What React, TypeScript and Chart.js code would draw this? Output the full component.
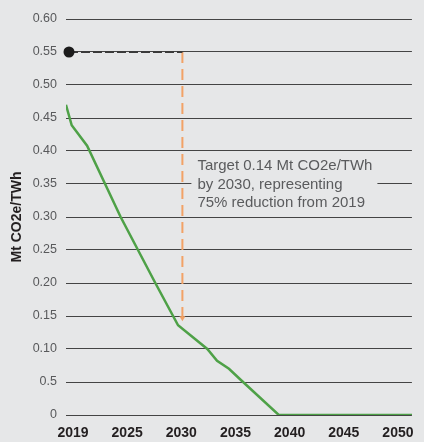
import React, { useEffect, useRef } from "react";
import { Chart, registerables } from "chart.js";

Chart.register(...registerables);

// ---- data ----
const yTickValues = [0, 0.05, 0.1, 0.15, 0.2, 0.25, 0.3, 0.35, 0.4, 0.45, 0.5, 0.55, 0.6];
const yTickLabels = ["0", "0.5", "0.10", "0.15", "0.20", "0.25", "0.30", "0.35", "0.40", "0.45", "0.50", "0.55", "0.60"];
const xTickYears = [2020, 2025, 2030, 2035, 2040, 2045, 2050];
const xTickLabels = ["2019", "2025", "2030", "2035", "2040", "2045", "2050"];
const pathwayYears = [2019.35, 2019.88, 2021.3, 2024.4, 2027.6, 2029.7, 2032.4, 2033.3, 2034.4, 2035.5, 2039.0, 2051.3];
const pathwayValues = [0.47, 0.439, 0.408, 0.3, 0.2, 0.136, 0.1, 0.082, 0.07, 0.053, 0, 0];
const baselineYear = 2019.63;
const baselineValue = 0.55;
const targetYear = 2030.1;
const targetValue = 0.145;
const annotationLines = ["Target 0.14 Mt CO2e/TWh", "by 2030, representing", "75% reduction from 2019"];
const axisTitle = "Mt CO2e/TWh";

const BG = "#e6e7e8";
const FONT = "'Liberation Sans', Arial, Helvetica, sans-serif";

export default function App() {
  const ref = useRef<HTMLCanvasElement | null>(null);

  useEffect(() => {
    document.body.style.margin = "0";
    document.body.style.background = BG;
    const canvas = ref.current;
    if (!canvas) return;

    const annotationPlugin = {
      id: "annotation",
      beforeDatasetsDraw(chart: any) {
        const { ctx, scales } = chart;
        const xs = scales.x;
        const ys = scales.y;
        const x0 = xs.getPixelForValue(targetYear) + 9;
        const yc = ys.getPixelForValue(0.35);
        ctx.save();
        ctx.fillStyle = BG;
        ctx.fillRect(x0, yc - 26, 186, 52);
        ctx.fillStyle = "#5a5b5d";
        ctx.font = `15px ${FONT}`;
        ctx.textBaseline = "middle";
        ctx.textAlign = "left";
        const offs = [-18, 1, 19];
        annotationLines.forEach((t, i) => ctx.fillText(t, x0 + 6, yc + offs[i]));
        ctx.restore();
      },
      afterDatasetsDraw(chart: any) {
        const { ctx, scales } = chart;
        const x = scales.x.getPixelForValue(targetYear);
        const y = scales.y.getPixelForValue(targetValue);
        ctx.save();
        ctx.fillStyle = "#f2a266";
        ctx.beginPath();
        ctx.moveTo(x - 3, y - 3);
        ctx.lineTo(x + 3, y - 3);
        ctx.lineTo(x, y + 2);
        ctx.closePath();
        ctx.fill();
        ctx.restore();
      },
    };

    const chart = new Chart(canvas, {
      type: "line",
      data: {
        datasets: [
          {
            label: "baseline",
            data: [{ x: baselineYear, y: baselineValue }],
            showLine: false,
            clip: false,
            pointRadius: 5.5,
            pointBackgroundColor: "#1c1c1c",
            pointBorderColor: "#1c1c1c",
            pointBorderWidth: 0,
          },
          {
            label: "baseline-line",
            data: [
              { x: baselineYear, y: baselineValue },
              { x: targetYear, y: baselineValue },
            ],
            borderColor: "#3a3a3a",
            borderWidth: 2,
            borderDash: [9, 3],
            pointRadius: 0,
          },
          {
            label: "target",
            data: [
              { x: targetYear, y: baselineValue },
              { x: targetYear, y: targetValue },
            ],
            borderColor: "#f2a266",
            borderWidth: 2,
            borderDash: [11, 6],
            pointRadius: 0,
          },
          {
            label: "pathway",
            data: pathwayYears.map((yr, i) => ({ x: yr, y: pathwayValues[i] })),
            borderColor: "#4ea147",
            borderWidth: 2.5,
            pointRadius: 0,
            tension: 0,
          },
        ],
      },
      options: {
        animation: false,
        responsive: false,
        layout: { padding: { top: 19, right: 12, bottom: 0, left: 0 } },
        plugins: { legend: { display: false }, tooltip: { enabled: false } },
        scales: {
          x: {
            type: "linear",
            min: 2019.354,
            max: 2051.29,
            grid: { display: false, drawTicks: false },
            border: { display: false },
            afterBuildTicks: (scale: any) => {
              scale.ticks = xTickYears.map((v) => ({ value: v }));
            },
            afterFit: (scale: any) => {
              scale.height = 27;
            },
            ticks: {
              padding: 10,
              maxRotation: 0,
              autoSkip: false,
              color: "#231f20",
              font: { family: FONT, size: 14, weight: "bold" },
              callback: (_v: any, i: number) => xTickLabels[i],
            },
          },
          y: {
            type: "linear",
            min: 0,
            max: 0.6,
            grid: { color: "#444444", lineWidth: 1, drawTicks: false },
            border: { display: false },
            afterBuildTicks: (scale: any) => {
              scale.ticks = yTickValues.map((v) => ({ value: v }));
            },
            afterFit: (scale: any) => {
              scale.width = 66;
            },
            title: {
              display: true,
              text: axisTitle,
              color: "#231f20",
              font: { family: FONT, size: 14, weight: "bold" },
              padding: { top: 9, bottom: 0 },
            },
            ticks: {
              padding: 9,
              color: "#58595b",
              font: { family: FONT, size: 12.5 },
              callback: (_v: any, i: number) => yTickLabels[i],
            },
          },
        },
      },
      plugins: [annotationPlugin],
    } as any);

    return () => chart.destroy();
  }, []);

  return (
    <div style={{ width: 424, height: 442, background: BG }}>
      <canvas ref={ref} width={424} height={442} style={{ display: "block" }} />
    </div>
  );
}
